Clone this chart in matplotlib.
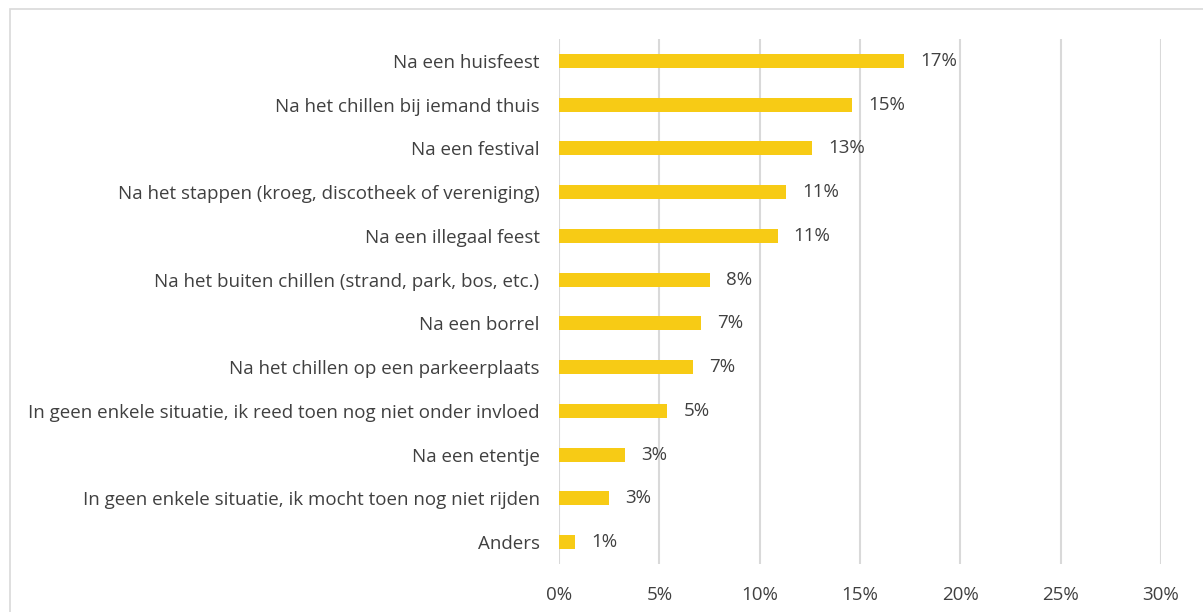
import matplotlib
matplotlib.use("Agg")
import matplotlib.pyplot as plt
from matplotlib.patches import Rectangle

# categories, top to bottom
categories = [
    "Na een huisfeest",
    "Na het chillen bij iemand thuis",
    "Na een festival",
    "Na het stappen (kroeg, discotheek of vereniging)",
    "Na een illegaal feest",
    "Na het buiten chillen (strand, park, bos, etc.)",
    "Na een borrel",
    "Na het chillen op een parkeerplaats",
    "In geen enkele situatie, ik reed toen nog niet onder invloed",
    "Na een etentje",
    "In geen enkele situatie, ik mocht toen nog niet rijden",
    "Anders",
]
values = [17.2, 14.6, 12.6, 11.3, 10.9, 7.5, 7.1, 6.7, 5.4, 3.3, 2.5, 0.8]
value_labels = ["17%", "15%", "13%", "11%", "11%", "8%", "7%", "7%", "5%", "3%", "3%", "1%"]
ticks = [0, 5, 10, 15, 20, 25, 30]
tick_labels = ["0%", "5%", "10%", "15%", "20%", "25%", "30%"]

plt.rcParams["font.family"] = ["Open Sans", "DejaVu Sans"]
text_color = "#404040"
fs = 13.5

fig = plt.figure(figsize=(12.03, 6.12), dpi=100)
ax = fig.add_axes([559 / 1203, 1 - 564 / 612, (1161 - 559) / 1203, (564 - 39) / 612])

y = list(range(len(categories)))
ax.barh(y, values, height=0.32, color="#F7CB15", zorder=3)
ax.set_ylim(len(categories) - 0.5, -0.5)
ax.set_xlim(0, 30)

for yi, v, lab in zip(y, values, value_labels):
    ax.text(v + 0.8, yi, lab, va="center", ha="left", fontsize=fs, color=text_color)

ax.set_yticks(y)
ax.set_yticklabels(categories, fontsize=fs, color=text_color)
ax.set_xticks(ticks)
ax.set_xticklabels(tick_labels, fontsize=fs, color=text_color)
ax.tick_params(axis="both", length=0)
ax.tick_params(axis="y", pad=14)
ax.tick_params(axis="x", pad=16)
ax.grid(axis="x", color="#D9D9D9", linewidth=1.5, zorder=0)
for s in ax.spines.values():
    s.set_visible(False)

# outer chart border
fig.patches.append(Rectangle((10 / 1203, -0.01), 1.1, 1 - 9 / 612 + 0.01,
                             transform=fig.transFigure, fill=False,
                             edgecolor="#D9D9D9", linewidth=1.2))

fig.savefig("out.png", dpi=100)
